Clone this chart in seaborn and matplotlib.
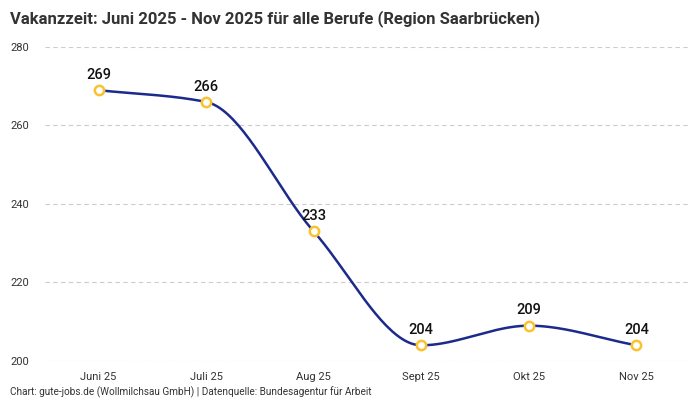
import numpy as np
import pandas as pd
import matplotlib
matplotlib.use("Agg")
import matplotlib.pyplot as plt
import seaborn as sns

# data
months = ["Juni 25", "Juli 25", "Aug 25", "Sept 25", "Okt 25", "Nov 25"]
vacancy_days = [269, 266, 233, 204, 209, 204]
y_ticks = [200, 220, 240, 260, 280]

title = "Vakanzzeit: Juni 2025 - Nov 2025 für alle Berufe (Region Saarbrücken)"
footer = "Chart: gute-jobs.de (Wollmilchsau GmbH) | Datenquelle: Bundesagentur für Arbeit"


def monotone_curve(x, y, n=40):
    # monotone cubic (Fritsch-Carlson) to smooth the line like the original
    x = np.asarray(x, float)
    y = np.asarray(y, float)
    h = np.diff(x)
    d = np.diff(y) / h
    m = np.zeros_like(y)
    m[0], m[-1] = d[0], d[-1]
    for k in range(1, len(y) - 1):
        if d[k - 1] * d[k] <= 0:
            m[k] = 0
        else:
            w1 = 2 * h[k] + h[k - 1]
            w2 = h[k] + 2 * h[k - 1]
            m[k] = (w1 + w2) / (w1 / d[k - 1] + w2 / d[k])
    xs, ys = [], []
    for k in range(len(x) - 1):
        t = np.linspace(0, 1, n, endpoint=(k == len(x) - 2))
        h00 = 2 * t**3 - 3 * t**2 + 1
        h10 = t**3 - 2 * t**2 + t
        h01 = -2 * t**3 + 3 * t**2
        h11 = t**3 - t**2
        xs.append(x[k] + t * h[k])
        ys.append(h00 * y[k] + h10 * h[k] * m[k] + h01 * y[k + 1] + h11 * h[k] * m[k + 1])
    return np.concatenate(xs), np.concatenate(ys)


df = pd.DataFrame({"pos": range(len(months)), "value": vacancy_days})
cx, cy = monotone_curve(df["pos"], df["value"])
curve = pd.DataFrame({"x": cx, "y": cy})

sns.set_theme(style="white")
plt.rcParams["font.family"] = ["Roboto", "DejaVu Sans"]

fig = plt.figure(figsize=(7, 4), dpi=100)
ax = fig.add_axes([0.064, 0.0975, 0.922, 0.785])

sns.lineplot(data=curve, x="x", y="y", ax=ax, color="#1c2a8c", linewidth=1.8,
             sort=False, estimator=None)
sns.scatterplot(data=df, x="pos", y="value", ax=ax, s=45, color="white",
                edgecolor="#f9c22e", linewidth=1.8, zorder=5, clip_on=False)

for _, row in df.iterrows():
    ax.annotate(f"{row['value']}", (row["pos"], row["value"]), xytext=(0, 6),
                textcoords="offset points", ha="center", va="bottom",
                fontsize=10.5, fontweight="medium", color="#111111")

ax.set_xlim(-0.5, 5.5)
ax.set_ylim(200, 280)
ax.set_xticks(df["pos"])
ax.set_xticklabels(months)
ax.set_yticks(y_ticks)
ax.set_xlabel("")
ax.set_ylabel("")
ax.tick_params(axis="both", length=0, labelsize=8, colors="#333333")
ax.tick_params(axis="x", pad=8)
ax.tick_params(axis="y", pad=11)
ax.yaxis.grid(True, linestyle=(0, (4, 3)), color="#cccccc", linewidth=0.8)
ax.set_axisbelow(True)
sns.despine(ax=ax, left=True, bottom=True)

fig.text(0.014, 0.975, title, ha="left", va="top", fontsize=12,
         fontweight="bold", color="#333333")
fig.text(0.014, 0.005, footer, ha="left", va="bottom", fontsize=7.2,
         color="#333333")

fig.savefig("out.png", dpi=100)
